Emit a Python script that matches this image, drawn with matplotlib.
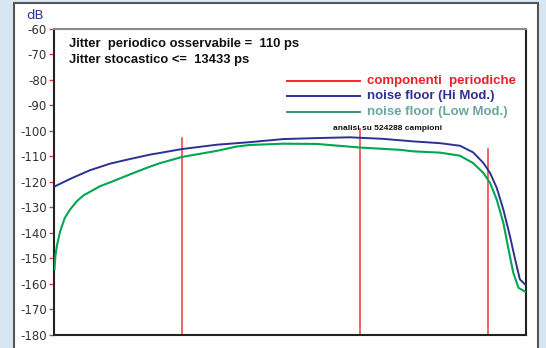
import matplotlib
matplotlib.use("Agg")
import matplotlib.pyplot as plt
from matplotlib.patches import Rectangle
from matplotlib.lines import Line2D

# Normalised frequency position (0 = start of band, 1 = end) and level in dB
hi_x = [0.000, 0.002, 0.034, 0.076, 0.119, 0.161, 0.203, 0.225, 0.271, 0.345,
        0.415, 0.485, 0.557, 0.627, 0.697, 0.761, 0.818, 0.860, 0.888, 0.910,
        0.924, 0.938, 0.952, 0.966, 0.977, 0.987, 0.998, 1.000]
hi_db = [-122.0, -121.8, -118.9, -115.5, -112.9, -111.1, -109.4, -108.7, -107.2, -105.5,
         -104.5, -103.3, -102.9, -102.6, -103.2, -104.2, -104.9, -105.9, -108.5, -112.7,
         -116.6, -122.4, -130.9, -141.3, -150.4, -158.2, -160.2, -160.4]

low_x = [0.001, 0.003, 0.006, 0.013, 0.023, 0.034, 0.048, 0.062, 0.097, 0.133,
         0.168, 0.203, 0.225, 0.271, 0.345, 0.387, 0.415, 0.485, 0.557, 0.648,
         0.733, 0.761, 0.818, 0.860, 0.888, 0.910, 0.924, 0.938, 0.952, 0.963,
         0.973, 0.984, 0.998, 1.000]
low_db = [-154.3, -149.0, -145.2, -139.4, -134.1, -130.9, -127.7, -125.4, -121.8, -119.2,
          -116.6, -114.1, -112.7, -110.3, -107.9, -106.2, -105.6, -105.1, -105.2, -106.6,
          -107.5, -108.1, -108.6, -109.8, -112.7, -116.6, -120.5, -127.0, -136.1, -146.5,
          -155.6, -161.5, -163.0, -163.1]

# Periodic components: position and peak level
spur_x = [0.271, 0.648, 0.919]
spur_db = [-102.9, -99.3, -107.2]

y_ticks = list(range(-60, -181, -10))

legend_labels = ["componenti  periodiche", "noise floor (Hi Mod.)", "noise floor (Low Mod.)"]
info_lines = ["Jitter  periodico osservabile =  110 ps", "Jitter stocastico <=  13433 ps"]
note = "analisi su 524288 campioni"

plt.rcParams["axes.unicode_minus"] = False

W, H = 546, 348
fig = plt.figure(figsize=(W / 100, H / 100), dpi=100)
fig.patch.set_facecolor("#d8e6f4")

# White framed panel behind the plot
panel = Rectangle((14 / W, -0.02), (538 - 14) / W, 1 - 3 / H + 0.02,
                  transform=fig.transFigure, facecolor="white",
                  edgecolor="#555555", linewidth=1.5, zorder=-5)
fig.patches.append(panel)

ax = fig.add_axes([54 / W, 1 - 335 / H, (526 - 54) / W, (335 - 28.5) / H])
ax.set_zorder(1)
ax.set_facecolor("white")

RED = "#f04848"
BLUE = "#2e3192"
GREEN = "#00a651"

for x, top in zip(spur_x, spur_db):
    ax.plot([x, x], [-180, top], color=RED, lw=1.2, zorder=2)

ax.plot(hi_x, hi_db, color=BLUE, lw=1.4, zorder=3)
ax.plot(low_x, low_db, color=GREEN, lw=1.5, zorder=4)

ax.set_xlim(0, 1)
ax.set_ylim(-180, -60)
ax.set_yticks(y_ticks)
ax.set_yticklabels([str(v) for v in y_ticks], fontfamily="DejaVu Sans", fontsize=8.5)
ax.tick_params(axis="y", direction="out", length=3.5, width=1, color="#ff3030",
               labelcolor="#333333", pad=1.5)
ax.set_xticks([])

for side in ["left", "bottom", "right"]:
    ax.spines[side].set_color("#222222")
    ax.spines[side].set_linewidth(1.5)
ax.spines["top"].set_color("#8a8a8a")
ax.spines["top"].set_linewidth(1.5)

fig.text(26 / W, 1 - 19 / H, "dB", color="#2b3aa0", fontsize=9.5,
         fontfamily="DejaVu Sans", ha="left", va="baseline")

# Jitter summary
for i, line in enumerate(info_lines):
    fig.text(69 / W, 1 - (47 + 15.6 * i) / H, line, fontsize=9.4,
             fontweight="bold", fontfamily="Liberation Sans",
             color="#111111", ha="left", va="baseline")

# Hand-drawn legend
leg_line_colors = ["#ff2020", BLUE, "#3a8e78"]
leg_text_colors = ["#e8202a", "#2e3192", "#6aa5a0"]
leg_y = [80.7, 95.7, 111.7]
for lab, lc, tc, yy in zip(legend_labels, leg_line_colors, leg_text_colors, leg_y):
    yf = 1 - yy / H
    fig.add_artist(Line2D([287 / W, 360 / W], [yf, yf], color=lc, lw=1.4,
                          transform=fig.transFigure))
    fig.text(367 / W, yf, lab, color=tc, fontsize=9.5, fontweight="bold",
             fontfamily="Liberation Sans", ha="left", va="center")

fig.text(333 / W, 1 - 128.5 / H, note, fontsize=6, fontweight="bold",
         fontfamily="Liberation Sans", color="#111111", ha="left", va="center")

fig.savefig("out.png", dpi=100, facecolor=fig.get_facecolor())
